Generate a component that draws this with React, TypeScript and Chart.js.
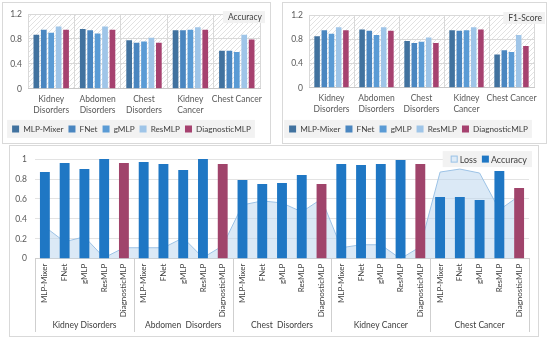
import React, { useEffect, useRef } from 'react';
import { Chart, registerables } from 'chart.js';

Chart.register(...registerables);

const FONT_FAMILY = 'Lato, "Open Sans", "DejaVu Sans", sans-serif';
Chart.defaults.font.family = FONT_FAMILY;

// ---------------- data ----------------
const categories: (string | string[])[] = [
  ['Kidney', 'Disorders'],
  ['Abdomen', 'Disorders'],
  ['Chest', 'Disorders'],
  ['Kidney', 'Cancer'],
  'Chest Cancer',
];
const models = ['MLP-Mixer', 'FNet', 'gMLP', 'ResMLP', 'DiagnosticMLP'];
const topYTicks = [0, 0.2, 0.4, 0.6, 0.8, 1, 1.2];
const bottomYTicks = [0, 0.1, 0.2, 0.3, 0.4, 0.5, 0.6, 0.7, 0.8, 0.9, 1];

// Accuracy (top-left), one array per model across the categories
const accMLPMixer = [0.87, 0.96, 0.78, 0.94, 0.61];
const accFNet = [0.95, 0.94, 0.74, 0.94, 0.61];
const accGMLP = [0.9, 0.89, 0.76, 0.95, 0.59];
const accResMLP = [1.0, 1.0, 0.82, 0.99, 0.87];
const accDiagnosticMLP = [0.95, 0.95, 0.74, 0.95, 0.79];

// F1-Score (top-right)
const f1MLPMixer = [0.85, 0.96, 0.77, 0.95, 0.55];
const f1FNet = [0.95, 0.94, 0.74, 0.94, 0.62];
const f1GMLP = [0.89, 0.87, 0.76, 0.95, 0.59];
const f1ResMLP = [1.0, 1.0, 0.83, 1.0, 0.87];
const f1DiagnosticMLP = [0.95, 0.94, 0.74, 0.96, 0.69];

// Bottom chart: groups of models
const groupLabels = ['Kidney Disorders', 'Abdomen  Disorders', 'Chest  Disorders', 'Kidney Cancer', 'Chest Cancer'];
const lossKidneyDisorders = [0.32, 0.17, 0.22, 0.01, 0.11];
const lossAbdomenDisorders = [0.11, 0.11, 0.21, 0.01, 0.13];
const lossChestDisorders = [0.54, 0.58, 0.56, 0.47, 0.6];
const lossKidneyCancer = [0.11, 0.14, 0.14, 0.0, 0.12];
const lossChestCancer = [0.87, 0.9, 0.86, 0.49, 0.63];
const accuracyKidneyDisorders = [0.87, 0.96, 0.9, 1.0, 0.96];
const accuracyAbdomenDisorders = [0.97, 0.95, 0.89, 1.0, 0.95];
const accuracyChestDisorders = [0.79, 0.75, 0.76, 0.84, 0.75];
const accuracyKidneyCancer = [0.95, 0.94, 0.95, 0.99, 0.95];
const accuracyChestCancer = [0.62, 0.62, 0.59, 0.88, 0.71];

// ---------------- styles ----------------
const modelColors = ['#41729f', '#4a86c0', '#5a9bd5', '#9fc5e8', '#a6416f'];
const BLUE = '#1f77c4';
const MAROON = '#a0446b';
const LOSS_FILL = 'rgba(189,215,238,0.55)';
const LOSS_LINE = '#9dc3e6';
const GRID = '#d9d9d9';
const TICK = '#595959';
const TEXT = '#404040';

const fmt = (v: number | string) => String(Math.round(Number(v) * 10) / 10);

let hatch: CanvasPattern | null = null;
function getHatch(ctx: CanvasRenderingContext2D) {
  if (hatch) return hatch;
  const c = document.createElement('canvas');
  c.width = 5;
  c.height = 5;
  const g = c.getContext('2d')!;
  g.fillStyle = '#ffffff';
  g.fillRect(0, 0, 5, 5);
  g.strokeStyle = '#e2e2e2';
  g.lineWidth = 1;
  g.beginPath();
  g.moveTo(-1, 6);
  g.lineTo(6, -1);
  g.moveTo(-1, 1);
  g.lineTo(1, -1);
  g.moveTo(4, 6);
  g.lineTo(6, 4);
  g.stroke();
  hatch = ctx.createPattern(c, 'repeat');
  return hatch;
}

function makePanelPlugin(title: string, badgeRightInset: number) {
  return {
    id: 'panel_' + title,
    beforeDraw(chart: any) {
      const { ctx, chartArea } = chart;
      ctx.save();
      ctx.fillStyle = getHatch(ctx) || '#fafafa';
      ctx.fillRect(chartArea.left, chartArea.top, chartArea.right - chartArea.left, chartArea.bottom - chartArea.top);
      const lg = chart.legend;
      if (lg && lg.legendHitBoxes && lg.legendHitBoxes.length) {
        const hb = lg.legendHitBoxes;
        const l = Math.min(...hb.map((h: any) => h.left)) - 5;
        const r = Math.max(...hb.map((h: any) => h.left + h.width)) + 4;
        const cy = hb[0].top + hb[0].height / 2;
        ctx.fillStyle = '#f2f2f2';
        ctx.fillRect(l, cy - 9, r - l, 18);
      }
      ctx.restore();
    },
    afterDraw(chart: any) {
      const { ctx, chartArea } = chart;
      ctx.save();
      ctx.font = `8.5px ${FONT_FAMILY}`;
      const w = ctx.measureText(title).width;
      const right = chart.width - badgeRightInset;
      const top = chartArea.top - 3;
      ctx.fillStyle = '#f2f2f2';
      ctx.fillRect(right - w - 8, top, w + 8, 12);
      ctx.fillStyle = TEXT;
      ctx.textAlign = 'right';
      ctx.textBaseline = 'middle';
      ctx.fillText(title, right - 3, top + 6.5);
      ctx.restore();
    },
  };
}

function topConfig(title: string, series: number[][], lay: { padRight: number; padTop: number; yWidth: number; xHeight: number; badgeRightInset: number }) {
  return {
    type: 'bar',
    data: {
      labels: categories,
      datasets: models.map((m, i) => ({
        label: m,
        data: series[i],
        backgroundColor: modelColors[i],
        borderWidth: 0,
        categoryPercentage: 0.8,
        barPercentage: 0.77,
      })),
    },
    options: {
      responsive: false,
      animation: false,
      layout: { padding: { left: 0, right: lay.padRight, top: lay.padTop, bottom: 0 } },
      scales: {
        x: {
          grid: { color: GRID, offset: true, drawTicks: false },
          border: { color: '#c8c8c8' },
          ticks: { font: { size: 8.5, lineHeight: 1.3 }, color: TICK, padding: 5, maxRotation: 0, autoSkip: false },
          afterFit: (s: any) => { s.height = lay.xHeight; },
        },
        y: {
          min: 0,
          max: 1.2,
          grid: { color: GRID, drawTicks: false },
          border: { display: false },
          ticks: { font: { size: 8.5 }, color: TICK, padding: 6, callback: fmt },
          afterBuildTicks: (s: any) => { s.ticks = topYTicks.map((v) => ({ value: v })); },
          afterFit: (s: any) => { s.width = lay.yWidth; },
        },
      },
      plugins: {
        legend: {
          position: 'bottom',
          labels: { boxWidth: 7, boxHeight: 7, padding: 5, font: { size: 8.2 }, color: TEXT },
        },
        tooltip: { enabled: false },
      },
    },
    plugins: [makePanelPlugin(title, lay.badgeRightInset)],
  };
}

const bottomLabels = groupLabels.flatMap(() => models);
const bottomLoss = [
  ...lossKidneyDisorders,
  ...lossAbdomenDisorders,
  ...lossChestDisorders,
  ...lossKidneyCancer,
  ...lossChestCancer,
];
const bottomAccuracy = [
  ...accuracyKidneyDisorders,
  ...accuracyAbdomenDisorders,
  ...accuracyChestDisorders,
  ...accuracyKidneyCancer,
  ...accuracyChestCancer,
];

const bottomPlugin = {
  id: 'bottomGroups',
  afterDraw(chart: any) {
    const { ctx, chartArea } = chart;
    const xs = chart.scales.x;
    const n = models.length;
    const bottom = chart.height - 4;
    ctx.save();
    ctx.strokeStyle = '#cfcfcf';
    ctx.lineWidth = 1;
    for (let g = 0; g <= groupLabels.length; g++) {
      let x: number;
      if (g === 0) x = chartArea.left;
      else if (g === groupLabels.length) x = chartArea.right;
      else x = (xs.getPixelForValue(g * n - 1) + xs.getPixelForValue(g * n)) / 2;
      const px = Math.round(x) + 0.5;
      ctx.beginPath();
      ctx.moveTo(px, chartArea.bottom);
      ctx.lineTo(px, bottom);
      ctx.stroke();
    }
    ctx.fillStyle = TEXT;
    ctx.font = `8.5px ${FONT_FAMILY}`;
    ctx.textAlign = 'center';
    ctx.textBaseline = 'middle';
    groupLabels.forEach((gl, g) => {
      const x = xs.getPixelForValue(g * n + (n - 1) / 2);
      ctx.fillText(gl, x, chartArea.bottom + 66.5);
    });

    // legend (top-right, over the plot)
    const ds = chart.data.datasets;
    ctx.font = `9px ${FONT_FAMILY}`;
    ctx.textAlign = 'left';
    const sq = 7;
    const gapText = 2;
    const gapItem = 5;
    const widths = ds.map((d: any) => sq + gapText + ctx.measureText(d.label).width);
    const total = widths.reduce((a: number, b: number) => a + b, 0) + gapItem * (ds.length - 1);
    const endX = chartArea.right - 2;
    let x = endX - total;
    const cy = chartArea.top;
    ctx.fillStyle = '#f2f2f2';
    ctx.fillRect(x - 8, cy - 8, total + 13, 16);
    ds.forEach((d: any, i: number) => {
      if (d.type === 'line') {
        ctx.fillStyle = '#deebf7';
        ctx.fillRect(x, cy - sq / 2, sq, sq);
        ctx.strokeStyle = LOSS_LINE;
        ctx.strokeRect(x + 0.5, cy - sq / 2 + 0.5, sq - 1, sq - 1);
      } else {
        ctx.fillStyle = BLUE;
        ctx.fillRect(x, cy - sq / 2, sq, sq);
      }
      ctx.fillStyle = TEXT;
      ctx.fillText(d.label, x + sq + gapText, cy + 0.5);
      x += widths[i] + gapItem;
    });
    ctx.restore();
  },
};

function bottomConfig() {
  return {
    type: 'bar',
    data: {
      labels: bottomLabels,
      datasets: [
        {
          type: 'line',
          label: 'Loss',
          data: bottomLoss,
          fill: 'origin',
          backgroundColor: LOSS_FILL,
          borderColor: LOSS_LINE,
          borderWidth: 1,
          pointRadius: 0,
          tension: 0,
          order: 2,
        },
        {
          type: 'bar',
          label: 'Accuracy',
          data: bottomAccuracy,
          backgroundColor: bottomLabels.map((m) => (m === 'DiagnosticMLP' ? MAROON : BLUE)),
          borderWidth: 0,
          categoryPercentage: 1,
          barPercentage: 0.5,
          order: 1,
        },
      ],
    },
    options: {
      responsive: false,
      animation: false,
      layout: { padding: { left: 0, right: 9, top: 9.7, bottom: 0 } },
      scales: {
        x: {
          grid: { display: false, drawTicks: false },
          border: { color: '#cfcfcf' },
          ticks: { font: { size: 8 }, color: TEXT, padding: 5, minRotation: 90, maxRotation: 90, autoSkip: false },
          afterFit: (s: any) => { s.height = 77.3; },
        },
        y: {
          min: 0,
          max: 1,
          grid: { color: '#e3e3e3', drawTicks: false },
          border: { display: false },
          ticks: { font: { size: 8.5 }, color: TICK, padding: 8, callback: fmt },
          afterBuildTicks: (s: any) => { s.ticks = bottomYTicks.map((v) => ({ value: v })); },
          afterFit: (s: any) => { s.width = 25; },
        },
      },
      plugins: {
        legend: { display: false },
        tooltip: { enabled: false },
      },
    },
    plugins: [bottomPlugin],
  };
}

function ChartBox({ left, top, width, height, build }: { left: number; top: number; width: number; height: number; build: () => any }) {
  const ref = useRef<HTMLCanvasElement>(null);
  useEffect(() => {
    const chart = new Chart(ref.current as HTMLCanvasElement, build());
    return () => chart.destroy();
  }, []);
  const cw = width - 2;
  const ch = height - 2;
  return (
    <div
      style={{
        position: 'absolute',
        left,
        top,
        width,
        height,
        boxSizing: 'border-box',
        border: '1px solid #d9d9d9',
        background: '#ffffff',
      }}
    >
      <canvas ref={ref} width={cw} height={ch} style={{ display: 'block', width: cw, height: ch }} />
    </div>
  );
}

export default function App() {
  return (
    <div style={{ position: 'absolute', left: 0, top: 0, width: 550, height: 340, background: '#ffffff', overflow: 'hidden' }}>
      <ChartBox
        left={2}
        top={2}
        width={269}
        height={142}
        build={() =>
          topConfig('Accuracy', [accMLPMixer, accFNet, accGMLP, accResMLP, accDiagnosticMLP], {
            padRight: 10,
            padTop: 11,
            yWidth: 25,
            xHeight: 31,
            badgeRightInset: 5,
          })
        }
      />
      <ChartBox
        left={282}
        top={2}
        width={265}
        height={142}
        build={() =>
          topConfig('F1-Score', [f1MLPMixer, f1FNet, f1GMLP, f1ResMLP, f1DiagnosticMLP], {
            padRight: 12,
            padTop: 12,
            yWidth: 26,
            xHeight: 32,
            badgeRightInset: 1,
          })
        }
      />
      <ChartBox left={9} top={145} width={530} height={192} build={bottomConfig} />
    </div>
  );
}
